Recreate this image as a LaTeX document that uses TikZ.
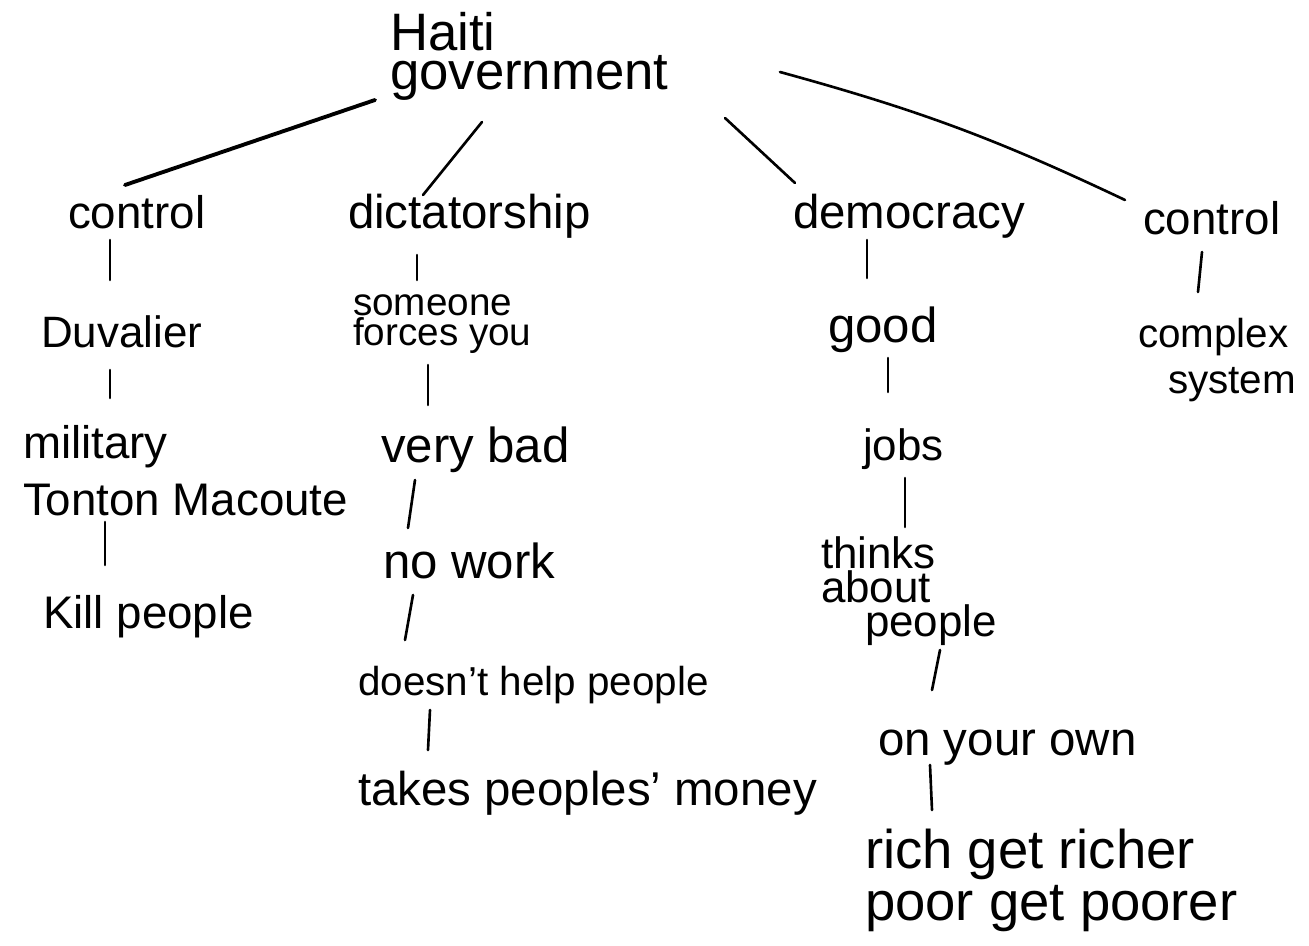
\documentclass[tikz,border=0pt]{standalone}
\usepackage{fontspec}
\setmainfont{Liberation Sans}
\usepackage{tikz}
\usetikzlibrary{calc}
\lineskiplimit=-100pt

\begin{document}
\begin{tikzpicture}[-,x=0.02cm,y=-0.02cm,line width=1.5pt,line cap=round,
  main node/.style={anchor=base west,inner sep=1pt,align=left,font=\fontsize{#1}{21}\selectfont},
  main node/.default=26]
  \useasboundingbox (0,0) rectangle (1309,946);

  \node[main node=30] (1) at (387,90) {Haiti\\[1.7pt]government};
  \node[main node] (2) at (65,228) {control};
  \node[main node=25] (3) at (38,347) {Duvalier};
  \node[main node] (4) at (20,515) {military\\[11pt]Tonton Macoute};
  \node[main node] (5) at (40,628) {Kill people};
  \node[main node=27] (6) at (345,228) {dictatorship};
  \node[main node=22] (7) at (350,345) {someone\\[-4pt]forces you};
  \node[main node=28] (8) at (378,462) {very bad};
  \node[main node=28] (9) at (380,578) {no work};
  \node[main node=23] (10) at (355,695) {doesn't help people};
  \node[main node=27] (11) at (355,805) {takes peoples' money};
  \node[main node=27] (12) at (790,228) {democracy};
  \node[main node=28] (13) at (825,342) {good};
  \node[main node=25] (14) at (860,460) {jobs};
  \node[main node=25] (15) at (818,636) {thinks\\[-1.7pt]about\\[-1.7pt]\hspace*{0.88cm}people};
  \node[main node=27] (16) at (875,755) {on your own};
  \node[main node=31] (17) at (862,920) {rich get richer\\[8.5pt]poor get poorer};
  \node[main node] (18) at (1140,235) {control};
  \node[main node=23] (19) at (1135,393) {complex\\[5pt]\hspace*{0.6cm}system};

  \path
    ($(1.base west)+(-12,10)$) edge[line width=2.2pt] ($(2.base west)+(60,-43)$)
    ($(1.base west)+(95,32)$) edge ($(6.base west)+(78,-33)$)
    ($(1.base west)+(338,28)$) edge ($(12.base west)+(5,-45)$)
    ($(1.base west)+(393,-18)$) edge[bend left=5] ($(18.base west)+(-15,-35)$)
    ($(2.base west)+(45,12)$) edge ($(3.base west)+(72,-67)$)
    ($(3.base west)+(72,23)$) edge ($(4.base west)+(90,-117)$)
    ($(4.base west)+(85,7)$) edge ($(5.base west)+(65,-63)$)
    ($(6.base west)+(72,27)$) edge ($(7.base west)+(67,-65)$)
    ($(7.base west)+(78,20)$) edge ($(8.base west)+(50,-57)$)
    ($(8.base west)+(37,18)$) edge ($(9.base west)+(28,-50)$)
    ($(9.base west)+(33,17)$) edge ($(10.base west)+(50,-55)$)
    ($(10.base west)+(75,15)$) edge ($(11.base west)+(73,-55)$)
    ($(12.base west)+(77,12)$) edge ($(13.base west)+(42,-64)$)
    ($(13.base west)+(63,16)$) edge ($(14.base west)+(28,-68)$)
    ($(14.base west)+(45,18)$) edge ($(15.base west)+(87,-109)$)
    ($(15.base west)+(122,14)$) edge ($(16.base west)+(57,-65)$)
    ($(16.base west)+(55,10)$) edge ($(17.base west)+(70,-110)$)
    ($(18.base west)+(62,17)$) edge ($(19.base west)+(63,-101)$);
\end{tikzpicture}
\end{document}
